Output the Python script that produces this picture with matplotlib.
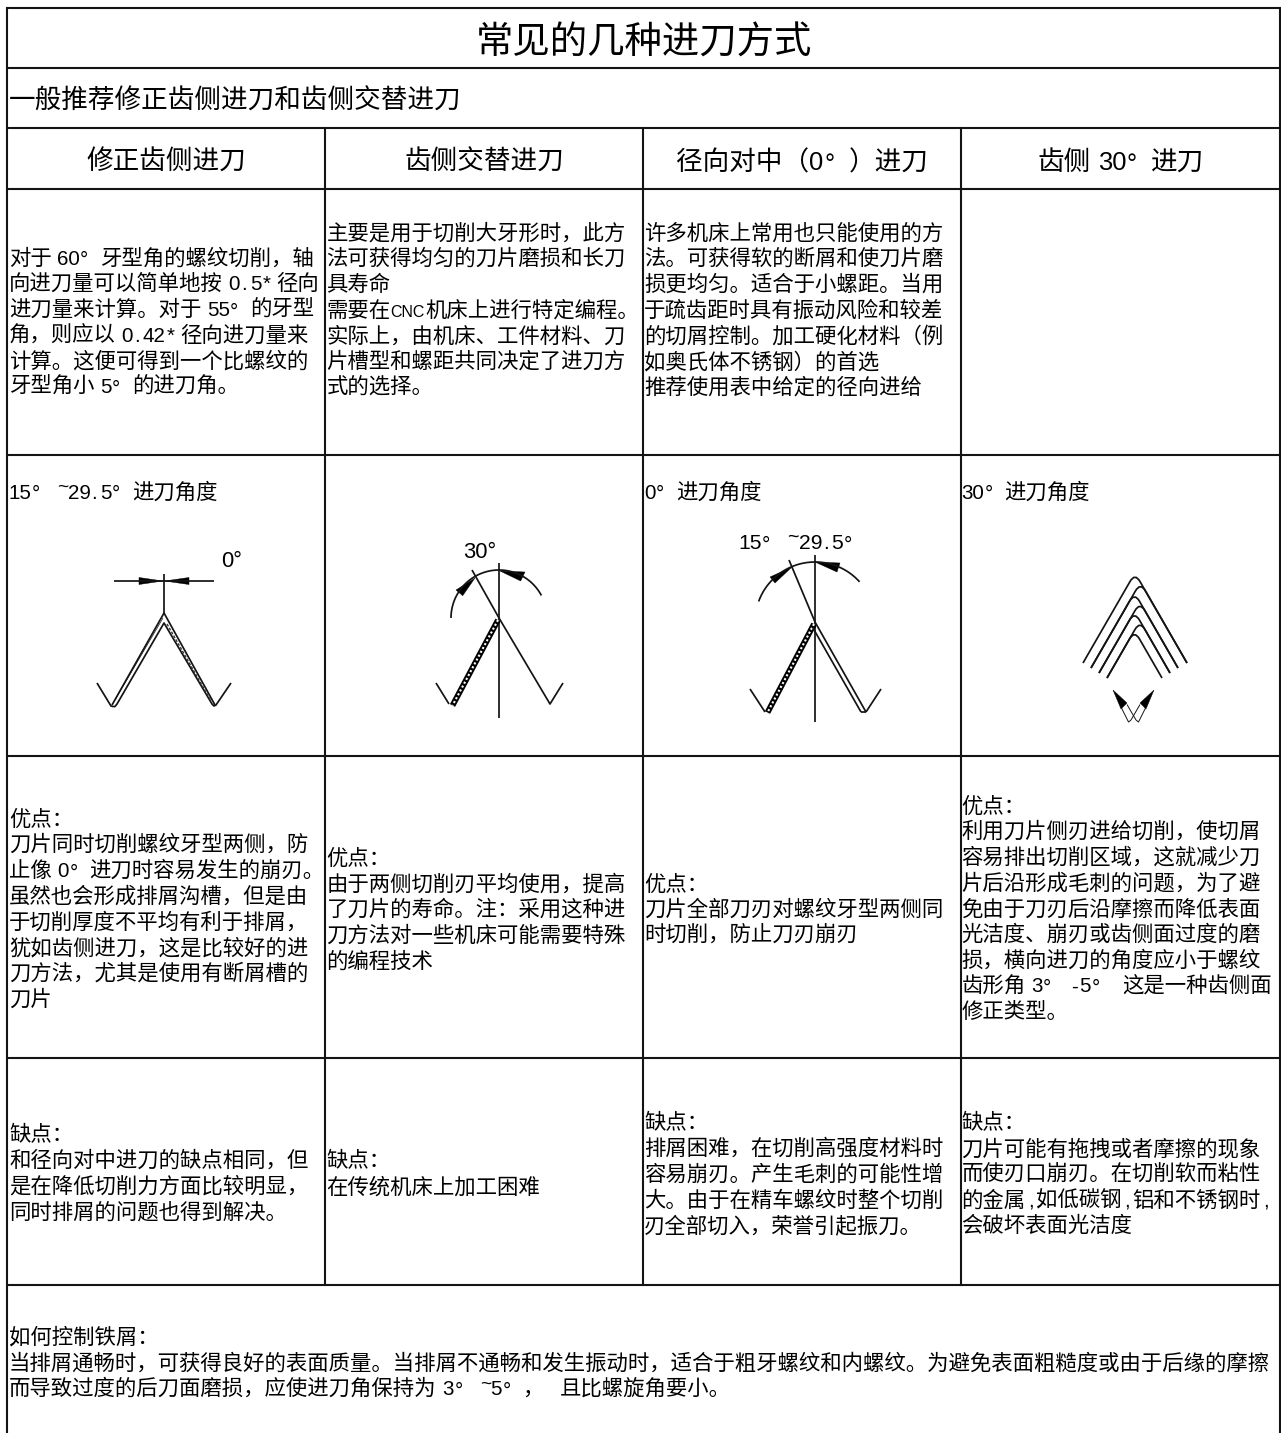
import re
import matplotlib
matplotlib.use("Agg")
import matplotlib.pyplot as plt
from matplotlib.path import Path
from matplotlib.patches import PathPatch, Polygon
import numpy as np

plt.rcParams['font.family'] = ['Noto Sans CJK SC', 'DejaVu Sans']

# text content
title = "常见的几种进刀方式"
subtitle = "一般推荐修正齿侧进刀和齿侧交替进刀"
headers = ["修正齿侧进刀", "齿侧交替进刀", "径向对中(0°)进刀", "齿侧 30°进刀"]

intro = [
    ["对于 60°牙型角的螺纹切削,轴", "向进刀量可以简单地按 0.5* 径向", "进刀量来计算。对于 55°的牙型",
     "角,则应以 0.42* 径向进刀量来", "计算。这便可得到一个比螺纹的", "牙型角小 5°的进刀角。"],
    ["主要是用于切削大牙形时,此方", "法可获得均匀的刀片磨损和长刀", "具寿命", "需要在CNC机床上进行特定编程。",
     "实际上,由机床、工件材料、刀", "片槽型和螺距共同决定了进刀方", "式的选择。"],
    ["许多机床上常用也只能使用的方", "法。可获得软的断屑和使刀片磨", "损更均匀。适合于小螺距。当用",
     "于疏齿距时具有振动风险和较差", "的切屑控制。加工硬化材料(例", "如奥氏体不锈钢)的首选", "推荐使用表中给定的径向进给"],
]
angle_labels = ["15° ~29.5°进刀角度", "0°进刀角度", "30°进刀角度"]
pros = [
    ["优点:", "刀片同时切削螺纹牙型两侧,防", "止像 0°进刀时容易发生的崩刃。", "虽然也会形成排屑沟槽,但是由",
     "于切削厚度不平均有利于排屑,", "犹如齿侧进刀,这是比较好的进", "刀方法,尤其是使用有断屑槽的", "刀片"],
    ["优点:", "由于两侧切削刃平均使用,提高", "了刀片的寿命。注:采用这种进", "刀方法对一些机床可能需要特殊", "的编程技术"],
    ["优点:", "刀片全部刀刃对螺纹牙型两侧同", "时切削,防止刀刃崩刃"],
    ["优点:", "利用刀片侧刃进给切削,使切屑", "容易排出切削区域,这就减少刀", "片后沿形成毛刺的问题,为了避",
     "免由于刀刃后沿摩擦而降低表面", "光洁度、崩刃或齿侧面过度的磨", "损,横向进刀的角度应小于螺纹",
     "齿形角 3° -5°  这是一种齿侧面", "修正类型。"],
]
cons = [
    ["缺点:", "和径向对中进刀的缺点相同,但", "是在降低切削力方面比较明显,", "同时排屑的问题也得到解决。"],
    ["缺点:", "在传统机床上加工困难"],
    ["缺点:", "排屑困难,在切削高强度材料时", "容易崩刃。产生毛刺的可能性增", "大。由于在精车螺纹时整个切削",
     "刃全部切入,荣誉引起振刀。"],
    ["缺点:", "刀片可能有拖拽或者摩擦的现象", "而使刃口崩刃。在切削软而粘性", "的金属,如低碳钢,铝和不锈钢时,",
     "会破坏表面光洁度"],
]
footer = [
    "如何控制铁屑:",
    "当排屑通畅时,可获得良好的表面质量。当排屑不通畅和发生振动时,适合于粗牙螺纹和内螺纹。为避免表面粗糙度或由于后缘的摩擦",
    "而导致过度的后刀面磨损,应使进刀角保持为 3° ~5°,   且比螺旋角要小。",
]
# this one line keeps half width commas in the reference
half_width_lines = [cons[3][3]]
full_width = {ord(","): "\uff0c", ord(":"): "\uff1a", ord("("): "\uff08", ord(")"): "\uff09"}

# table grid, in pixels
col_x = [7, 325, 643, 961, 1280]
row_y = [8, 68, 128, 189, 455, 756, 1058, 1285]
text_x = [9, 326.5, 644, 961.5]
intro_y = [257, 232, 232]
pros_y = [818, 857, 883, 805]
cons_y = [1134, 1160, 1122, 1122]
line_step = 25.7
body = 21.4
ink = "#141414"

fig = plt.figure(figsize=(12.81, 14.33), dpi=100)
ax = fig.add_axes([0, 0, 1, 1])
ax.set_xlim(0, 1281)
ax.set_ylim(1433, 0)
ax.axis("off")


def px(n):
    return n * 0.72


def token_width(tok, size):
    if tok == " ":
        return size * 0.25
    if tok == "°":
        return size
    if tok == "CNC":
        return size * 1.6
    if tok.isascii():
        return len(tok) * size / 2
    return len(tok) * size


def mixed_line(x, y, s, size=body, center=False):
    # the reference font is fixed pitch: han cells 1 em, latin half an em, degree 1 em
    if s not in half_width_lines:
        s = s.translate(full_width)
    toks = re.findall(r"[^\x00-\x7f°]+|°|[0-9A-Za-z]+|.", s)
    if center:
        x = x - sum(token_width(t, size) for t in toks) / 2
    for t in toks:
        if t == "°":
            ax.text(x + size * 0.07, y + size * 0.08, t, fontsize=px(size * 0.95), family="Liberation Sans", color="black")
        elif t == "~":
            ax.text(x, y - size * 0.3, t, fontsize=px(size * 0.9), family="Liberation Sans", color="black")
        elif t == "CNC":
            ax.text(x, y, t, fontsize=px(size * 0.75), family="Liberation Sans", color="black")
        elif t.isascii() and t != " ":
            off = size * 0.11 if len(t) == 1 and not t.isalnum() else 0
            ax.text(x + off, y, t, fontsize=px(size * 0.96), family="Liberation Sans", color="black")
        elif t != " ":
            ax.text(x, y, t, fontsize=px(size), color="black")
        x += token_width(t, size)


def block(x, y, lines):
    for i, line in enumerate(lines):
        mixed_line(x, y + i * line_step + 7.5, line)


def stroke(xs, ys, lw=1.25):
    ax.plot(xs, ys, color=ink, lw=lw, solid_capstyle="butt", solid_joinstyle="round")


def hatched(p0, p1):
    # the thick dotted cut band
    ax.plot([p0[0], p1[0]], [p0[1], p1[1]], color="black", lw=4.2, solid_capstyle="butt")
    ax.plot([p0[0], p1[0]], [p0[1], p1[1]], color="white", lw=1.5, ls=(0, (1, 1.1)))


def head(tip, base1, base2):
    ax.add_patch(Polygon([tip, base1, base2], closed=True, fc="black", ec="black", lw=0.3))


def arc(cx, cy, r, a0, a1):
    t = np.radians(np.linspace(a0, a1, 60))
    stroke(cx + r * np.sin(t), cy - r * np.cos(t))


# grid
for y in row_y:
    ax.plot([col_x[0], col_x[-1]], [y, y], color=ink, lw=1.5, solid_capstyle="butt")
ax.plot([col_x[0], col_x[0]], [row_y[0], 1433], color=ink, lw=1.5)
ax.plot([col_x[-1], col_x[-1]], [row_y[0], 1433], color=ink, lw=1.5)
for x in col_x[1:-1]:
    ax.plot([x, x], [row_y[2], row_y[-1]], color=ink, lw=1.5)

# titles
ax.text(644, 54, title, fontsize=px(37.4), ha="center", va="baseline", color="black")
ax.text(8.5, 109, subtitle, fontsize=px(26.6), ha="left", va="baseline", color="black")
for i, h in enumerate(headers):
    mixed_line((col_x[i] + col_x[i + 1]) / 2 + 0.5, 170, h, size=26.6, center=True)

# text cells
for i, lines in enumerate(intro):
    block(text_x[i], intro_y[i], lines)
for i, lines in enumerate(pros):
    block(text_x[i], pros_y[i], lines)
for i, lines in enumerate(cons):
    block(text_x[i], cons_y[i], lines)
block(text_x[0], 1336, footer)

mixed_line(text_x[0], 498.5, angle_labels[0])
mixed_line(text_x[2], 498.5, angle_labels[1])
mixed_line(text_x[3], 498.5, angle_labels[2])

# diagram 1: 0 degree
stroke([163.7, 163.7], [574, 613])
stroke([114, 214], [581, 581])
head((163, 581), (139, 577.5), (139, 584.5))
head((164.5, 581), (189, 577.5), (189, 584.5))
stroke([97, 111, 113, 115, 117, 164, 212, 214, 216, 231], [683, 706, 706.5, 706.5, 704, 623, 704, 706, 705, 683])
stroke([112, 164, 215], [705, 613, 705])
stroke([115, 163], [700, 618], lw=0.5)
ax.plot([167, 211], [624, 701], color="#333333", lw=1.0, ls=(0, (2, 1.2)))
ax.text(221, 567, "0°", fontsize=px(22), family="Liberation Sans", ha="left", va="baseline", color="black")

# diagram 2: 30 degree
stroke([499, 499], [563, 718])
stroke([472, 499, 550, 563], [570, 618, 704, 683])
stroke([436, 449], [683, 704])
hatched((498, 620), (452.5, 705.5))
arc(499, 618, 48, -90, 62)
head((475, 578), (456, 590), (462.7, 595.7))
head((500, 571), (525, 572), (520.7, 581))
ax.text(463, 558, "30°", fontsize=px(22), family="Liberation Sans", ha="left", va="baseline", color="black")

# diagram 3: 15-29.5 degree
stroke([815, 815], [555, 722])
stroke([789, 815], [560, 622])
stroke([750, 765], [689, 712])
stroke([866, 881], [712, 689])
hatched((814, 624), (767.5, 712.5))
stroke([815, 866], [622, 712])
stroke([813, 861], [628, 712])
stroke([861, 866], [712, 712])
arc(815, 622, 60, -70, 48)
head((792, 567), (770, 577), (775, 583))
head((815, 562), (840, 563), (837, 572))
mixed_line(738, 549, "15° ~29.5°", size=22)

# diagram 4: nested 30 degree passes
left_feet = [(1083, 663), (1091, 668), (1099, 673), (1107, 678)]
right_feet = [(1187, 663), (1178, 668), (1170, 673), (1162, 678)]
passes = [(0, 0), (1, 0), (1, 1), (2, 1), (2, 2), (3, 2), (3, 3)]
k = 0.577
round_dy = 8.6
for li, ri in passes:
    lx, ly = left_feet[li]
    rx, ry = right_feet[ri]
    ya = (lx + ly * k - rx + ry * k) / (2 * k)
    xa = lx + (ly - ya) * k
    verts = [(lx, ly), (xa - round_dy * k, ya + round_dy), (xa, ya),
             (xa + round_dy * k, ya + round_dy), (rx, ry)]
    codes = [Path.MOVETO, Path.LINETO, Path.CURVE3, Path.CURVE3, Path.LINETO]
    ax.add_patch(PathPatch(Path(verts, codes), fc="none", ec=ink, lw=1.25))

head((1113, 690), (1121, 709), (1127, 703))
head((1154, 690), (1140, 703), (1146, 709))
stroke([1121.5, 1128.5, 1131], [708, 722, 720], lw=0.7)
stroke([1145.5, 1138.5, 1136], [708, 722, 720], lw=0.7)
stroke([1127, 1136], [704.5, 720], lw=0.7)
stroke([1140, 1131], [704.5, 720], lw=0.7)

fig.savefig("out.png", dpi=100, facecolor="white")
